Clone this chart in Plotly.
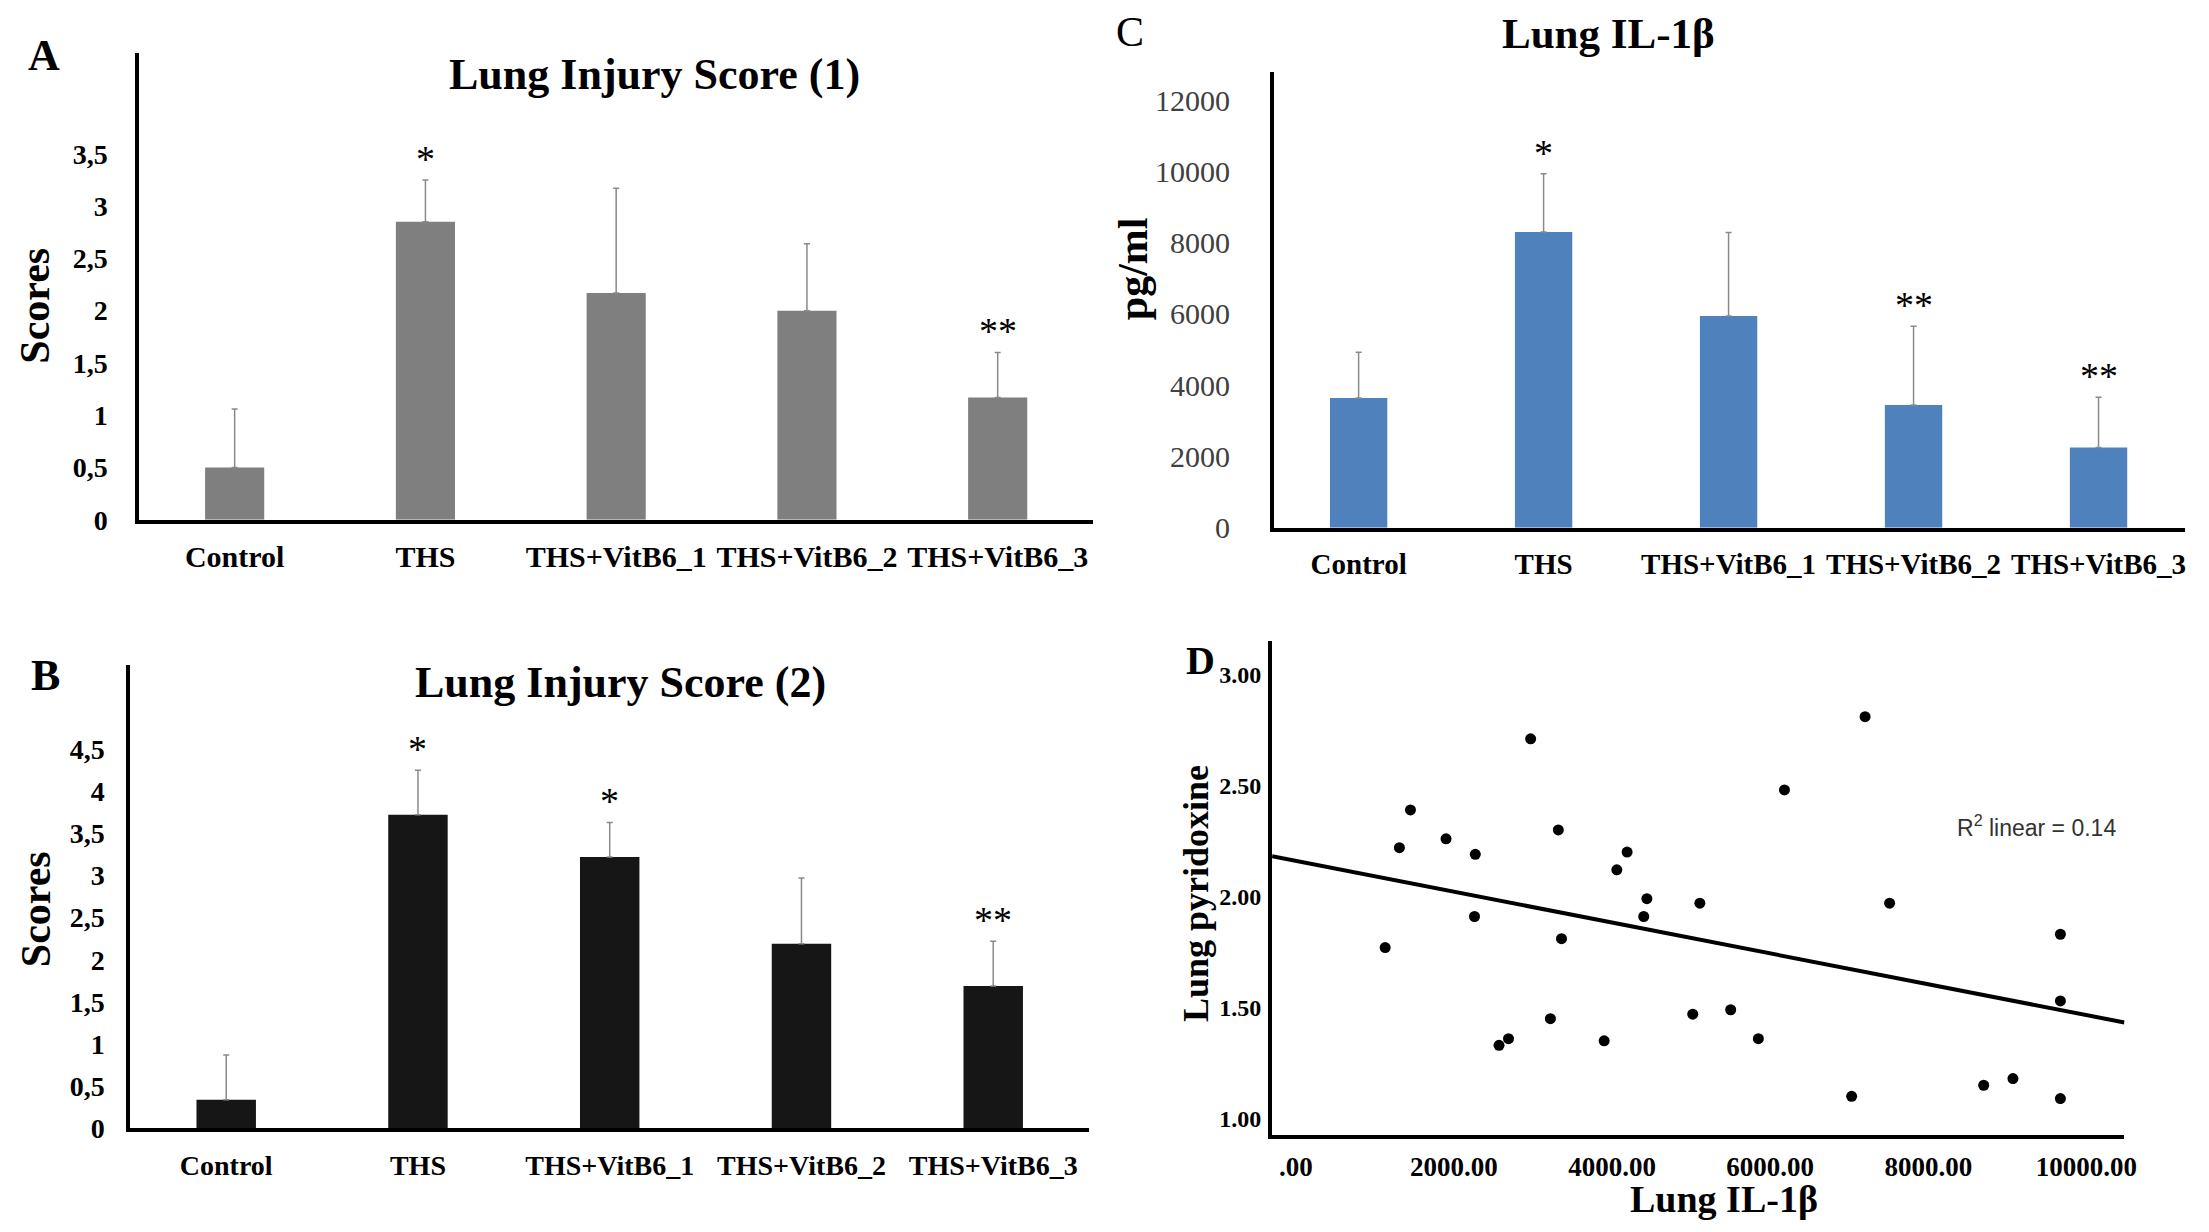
import numpy as np
import plotly.graph_objects as go

# groups shared by the three bar panels
groups = ["Control", "THS", "THS+VitB6_1", "THS+VitB6_2", "THS+VitB6_3"]

# A - Lung Injury Score (1)
score1_mean = [0.50, 2.85, 2.17, 2.00, 1.17]
score1_err = [0.56, 0.40, 1.00, 0.64, 0.43]
score1_sig = ["", "*", "", "", "**"]
score1_ticks = [0, 0.5, 1, 1.5, 2, 2.5, 3, 3.5]
score1_ticktext = ["0", "0,5", "1", "1,5", "2", "2,5", "3", "3,5"]

# B - Lung Injury Score (2)
score2_mean = [0.34, 3.72, 3.22, 2.19, 1.69]
score2_err = [0.53, 0.53, 0.41, 0.78, 0.53]
score2_sig = ["", "*", "*", "", "**"]
score2_ticks = [0, 0.5, 1, 1.5, 2, 2.5, 3, 3.5, 4, 4.5]
score2_ticktext = ["0", "0,5", "1", "1,5", "2", "2,5", "3", "3,5", "4", "4,5"]

# C - Lung IL-1b (pg/ml)
il1b_mean = [3640, 8300, 5940, 3440, 2250]
il1b_err = [1280, 1630, 2340, 2210, 1410]
il1b_sig = ["", "*", "", "**", "**"]
il1b_ticks = [0, 2000, 4000, 6000, 8000, 10000, 12000]
il1b_ticktext = ["0", "2000", "4000", "6000", "8000", "10000", "12000"]

# D - scatter, lung IL-1b vs lung pyridoxine
scatter_il1b = [1130, 1310, 1450, 1900, 2270, 2260, 2570, 2690, 2970, 3220,
                3320, 3360, 3900, 4060, 4190, 4400, 4440, 5020, 5110, 5500,
                5850, 6180, 7030, 7200, 7510, 8700, 9070, 9670, 9670, 9670]
scatter_pyr = [1.77, 2.22, 2.39, 2.26, 2.19, 1.91, 1.33, 1.36, 2.71, 1.45,
               2.30, 1.81, 1.35, 2.12, 2.20, 1.91, 1.99, 1.47, 1.97, 1.49,
               1.36, 2.48, 1.10, 2.81, 1.97, 1.15, 1.18, 1.83, 1.53, 1.09]
d_xticks = [0, 2000, 4000, 6000, 8000, 10000]
d_xticktext = [".00", "2000.00", "4000.00", "6000.00", "8000.00", "10000.00"]
d_yticks = [1.0, 1.5, 2.0, 2.5, 3.0]
d_yticktext = ["1.00", "1.50", "2.00", "2.50", "3.00"]
r2_text = "R<sup>2</sup> linear = 0.14"

W, H = 2209, 1232
SERIF = "Liberation Serif"


def px(x):
    return x / W


def py(y):
    return 1 - y / H


fig = go.Figure()


def bar_panel(n, mean, err, color, sig):
    xa = "x" if n == 1 else "x%d" % n
    ya = "y" if n == 1 else "y%d" % n
    fig.add_trace(go.Bar(
        x=groups, y=mean, width=0.31, marker_color=color, marker_line_width=0,
        error_y=dict(type="data", array=err, arrayminus=[0] * len(err),
                     symmetric=False, color="#8a8a8a", thickness=1.5, width=3),
        xaxis=xa, yaxis=ya, showlegend=False))
    for g, m, e, s in zip(groups, mean, err, sig):
        if s:
            fig.add_annotation(x=g, y=m + e, xref=xa, yref=ya, text=s,
                               showarrow=False, yanchor="bottom", yshift=-2,
                               font=dict(family=SERIF, size=38, color="black"))


bar_panel(1, score1_mean, score1_err, "#7f7f7f", score1_sig)
bar_panel(2, score2_mean, score2_err, "#161616", score2_sig)
bar_panel(3, il1b_mean, il1b_err, "#4f81bd", il1b_sig)

# D scatter + linear fit
fig.add_trace(go.Scatter(x=scatter_il1b, y=scatter_pyr, mode="markers",
                         marker=dict(color="black", size=11),
                         xaxis="x4", yaxis="y4", showlegend=False))
d_xrange = [-300, 10480]
slope, icpt = np.polyfit(scatter_il1b, scatter_pyr, 1)
fit_x = np.array(d_xrange)
fig.add_trace(go.Scatter(x=fit_x, y=slope * fit_x + icpt, mode="lines",
                         line=dict(color="black", width=4),
                         xaxis="x4", yaxis="y4", showlegend=False))

cat_axis = dict(type="category", showline=True, linecolor="black", linewidth=4,
                showgrid=False, zeroline=False, ticks="")
val_axis = dict(showline=True, linecolor="black", linewidth=4, showgrid=False,
                zeroline=False, ticks="")
bold_tick = dict(family=SERIF, size=28, color="black", weight="bold")

fig.update_layout(
    width=W, height=H, margin=dict(l=0, r=0, t=0, b=0),
    paper_bgcolor="white", plot_bgcolor="white",
    xaxis=dict(cat_axis, domain=[px(132), px(1091)], range=[-0.5, 4.5],
               anchor="y", tickfont=dict(bold_tick, size=30), ticklabelstandoff=7),
    yaxis=dict(val_axis, domain=[py(519), py(46)], range=[0, 4.46], anchor="x",
               tickvals=score1_ticks, ticktext=score1_ticktext,
               tickfont=bold_tick, ticklabelstandoff=22),
    xaxis2=dict(cat_axis, domain=[px(123), px(1087)], range=[-0.5, 4.5],
                anchor="y2", tickfont=dict(bold_tick, size=28), ticklabelstandoff=9),
    yaxis2=dict(val_axis, domain=[py(1136), py(666)], range=[0, 5.5],
                anchor="x2", tickvals=score2_ticks, ticktext=score2_ticktext,
                tickfont=bold_tick, ticklabelstandoff=16),
    xaxis3=dict(cat_axis, domain=[px(1273), px(2189)], range=[-0.457, 4.468],
                anchor="y3", tickfont=dict(bold_tick, size=29), ticklabelstandoff=7),
    yaxis3=dict(val_axis, domain=[py(527), py(65)], range=[0, 12784],
                anchor="x3", tickvals=il1b_ticks, ticktext=il1b_ticktext,
                tickfont=dict(family=SERIF, size=30, color="#404040"),
                ticklabelstandoff=34),
    xaxis4=dict(val_axis, domain=[px(1271), px(2128)], range=d_xrange,
                anchor="y4", tickvals=d_xticks, ticktext=d_xticktext,
                tickfont=dict(bold_tick, size=27), ticklabelstandoff=4),
    yaxis4=dict(val_axis, domain=[py(1143), py(642)], range=[0.925, 3.15],
                anchor="x4", tickvals=d_yticks, ticktext=d_yticktext,
                tickfont=dict(bold_tick, size=24), ticklabelstandoff=2),
)


def label(text, x, y, size, bold=True, angle=0, family=SERIF, color="black"):
    fig.add_annotation(text=text, x=px(x), y=py(y), xref="paper", yref="paper",
                       showarrow=False, xanchor="center", yanchor="middle",
                       textangle=angle,
                       font=dict(family=family, size=size, color=color,
                                 weight="bold" if bold else "normal"))


label("A", 36, 48, 44)
label("Lung Injury Score (1)", 650, 67, 44)
label("Scores", 27, 302, 42, angle=-90)
label("B", 38, 677, 44)
label("Lung Injury Score (2)", 616, 684, 44)
label("Scores", 29, 914, 42, angle=-90)
label("C", 1128, 24, 42, bold=False)
label("Lung IL-1β", 1609, 26, 43)
label("pg/ml", 1132, 264, 42, angle=-90)
label("D", 1199, 662, 40)
label("Lung pyridoxine", 1194, 898, 36, angle=-90)
label("Lung IL-1β", 1725, 1208, 38)
label(r2_text, 2040, 829, 23, bold=False, family="Liberation Sans", color="#333333")

fig.write_html("out.html")
